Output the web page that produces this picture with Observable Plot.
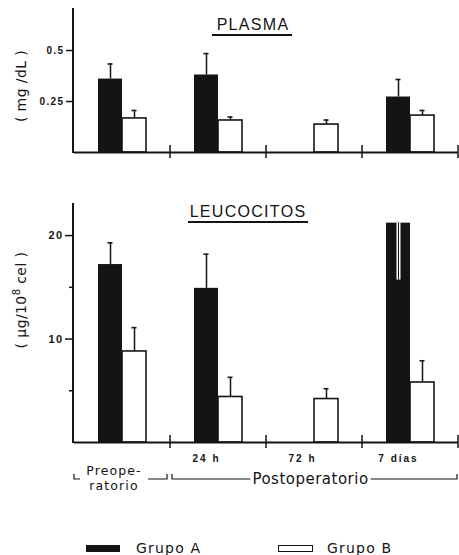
<!DOCTYPE html>
<html><head><meta charset="utf-8">
<script src="https://cdn.jsdelivr.net/npm/d3@7"></script>
<script src="https://cdn.jsdelivr.net/npm/@observablehq/plot@0.6"></script>
<style>
html,body{margin:0;padding:0;background:#fff;}
#wrap{position:relative;width:459px;height:555px;overflow:hidden;font-family:"DejaVu Sans",sans-serif;color:#141414;}
.panel{position:absolute;left:0;}
#top{top:0;}
#bot{top:180px;}
g[aria-label="y-axis tick label"] text{letter-spacing:1.4px;}
g[aria-label="text"] text{letter-spacing:2px;}
.leg{position:absolute;top:541px;display:flex;align-items:center;font-size:14px;letter-spacing:1.2px;line-height:14px;white-space:nowrap;}
.sw{display:inline-block;width:34px;height:7px;margin-right:16px;box-sizing:border-box;}
</style></head>
<body>
<div id="wrap">
  <div id="top" class="panel"></div>
  <div id="bot" class="panel"></div>
  <div class="leg" style="left:86px"><span class="sw" style="background:#141414"></span>Grupo A</div>
  <div class="leg" style="left:278px"><span class="sw" style="border:1.5px solid #141414;background:#fff;width:35px;margin-right:14px"></span>Grupo B</div>
</div>
<script>
// ---- data ----
const periods = ["Preoperatorio", "24 h", "72 h", "7 días"];
const periodLabels = ["", "24 h", "72 h", "7 días"];
const groups = ["A", "B"];

const plasmaA    = [0.360, 0.380, null, 0.272];
const plasmaErrA = [0.434, 0.485, null, 0.358];
const plasmaB    = [0.167, 0.157, 0.137, 0.181];
const plasmaErrB = [0.206, 0.174, 0.159, 0.206];
const plasmaTicks = [0.25, 0.5];
const plasmaTickLabels = ["0.25", "0.5"];

const leucoA    = [17.2, 14.9, null, 21.2];
const leucoErrA = [19.3, 18.2, null, 15.7];
const leucoB    = [8.8, 4.4, 4.2, 5.8];
const leucoErrB = [11.1, 6.3, 5.2, 7.9];
const leucoTicks = [10, 20];
const leucoTickLabels = ["10", "20"];
const leucoMinorTicks = [5, 15];

const INK = "#141414";

function rowsFor(a, ea, b, eb) {
  const rows = [];
  periods.forEach((p, i) => {
    if (a[i] != null) rows.push({period: p, group: "A", value: a[i], err: ea[i]});
    if (b[i] != null) rows.push({period: p, group: "B", value: b[i], err: eb[i]});
  });
  return rows;
}

function panel(o) {
  const rows = rowsFor(o.a, o.ea, o.b, o.eb);
  const A = rows.filter(d => d.group === "A"), B = rows.filter(d => d.group === "B");
  const up = rows.filter(d => d.err > d.value), down = rows.filter(d => d.err < d.value);
  const marks = [
    Plot.barY(A, {fx: "period", x: "group", y: "value", fill: INK}),
    Plot.barY(B, {fx: "period", x: "group", y: "value", fill: "white", stroke: INK, strokeWidth: 1.6}),
    Plot.ruleX(up, {fx: "period", x: "group", y1: "value", y2: "err", stroke: INK, strokeWidth: 1.5}),
    Plot.tickY(up, {fx: "period", x: "group", y: "err", stroke: INK, strokeWidth: 1.6, insetLeft: 9.5, insetRight: 9.5}),
    Plot.ruleX(down, {fx: "period", x: "group", y1: "value", y2: "err", stroke: "white", strokeWidth: 4}),
    Plot.ruleX(down, {fx: "period", x: "group", y1: "value", y2: "err", stroke: INK, strokeWidth: 1}),
    Plot.ruleY([0], {stroke: INK, strokeWidth: 2}),
    Plot.axisY({ticks: o.ticks, tickFormat: d => o.tickLabels[o.ticks.indexOf(d)], tickSize: o.tickSize,
      tickPadding: 2, label: null, fontWeight: "bold", fontSize: o.fontSize, color: INK, strokeWidth: 1.5})
  ];
  if (o.minor) marks.push(Plot.axisY({ticks: o.minor, tickFormat: () => "", tickSize: 5, label: null, color: INK, strokeWidth: 1.5}));
  if (o.periodText) marks.push(Plot.text(periods.map((p, i) => ({period: p, label: periodLabels[i]})),
      {fx: "period", x: () => "A", frameAnchor: "bottom", dy: 19, text: "label", fontWeight: "bold", fontSize: 10, fill: INK}));
  return Plot.plot({
    width: 459, height: o.height, marginLeft: 73, marginRight: 1, marginTop: o.marginTop, marginBottom: o.marginBottom,
    fx: {domain: periods, padding: 0, axis: null},
    x: {domain: groups, paddingInner: 0, paddingOuter: 1, axis: null},
    y: {domain: o.yDomain},
    style: {fontFamily: "'Liberation Sans', Arial, sans-serif", background: "transparent", color: INK},
    marks
  });
}

function scalesOf(chart) {
  const s = chart.scale("fx"), t = chart.scale("y");
  let fx, bw;
  if (typeof s.apply === "function") { fx = v => s.apply(v); bw = s.bandwidth; }
  else {
    const b = d3.scaleBand(s.domain, s.range).paddingInner(s.paddingInner ?? 0).paddingOuter(s.paddingOuter ?? 0).align(s.align ?? 0.5).round(!!s.round);
    fx = b; bw = b.bandwidth();
  }
  const y = typeof t.apply === "function" ? (v => t.apply(v)) : d3.scaleLinear(t.domain, t.range);
  return {fx, bw, y, x0: s.range[0], x1: s.range[1], yTop: y(t.domain[1]), y0: y(0)};
}

function decorate(chart, title, titleX, titleY, ulX, ulW, ylab, ylabY, brackets) {
  const svg = d3.select(chart);
  const {fx, bw, y, x0, yTop, y0} = scalesOf(chart);
  const g = svg.append("g").attr("stroke", INK).attr("fill", "none");
  g.append("line").attr("x1", x0).attr("x2", x0).attr("y1", yTop).attr("y2", y0 + 1).attr("stroke-width", 2);
  for (const p of periods) {
    const xr = fx(p) + bw;
    g.append("line").attr("x1", xr).attr("x2", xr).attr("y1", y0 - 7).attr("y2", y0 + 6).attr("stroke-width", 1.5);
  }
  const t = svg.append("g").attr("fill", INK);
  t.append("text").attr("x", titleX).attr("y", titleY).attr("text-anchor", "middle")
    .attr("font-family", "'Liberation Sans', Arial, sans-serif").attr("font-size", 16).attr("letter-spacing", 1.3).text(title);
  t.append("rect").attr("x", ulX).attr("y", titleY + 4).attr("width", ulW).attr("height", 2);
  const yl = t.append("text").attr("transform", `translate(21.5,${ylabY}) rotate(-90)`).attr("text-anchor", "middle")
    .attr("dy", "0.35em").attr("font-family", "'DejaVu Sans', sans-serif").attr("font-size", 14).attr("letter-spacing", 0.4);
  ylab(yl);
  if (brackets) {
    const yb = y0 + 37;
    const bg = svg.append("g").attr("stroke", INK).attr("fill", "none").attr("stroke-width", 1.2);
    const xL = fx(periods[0]), xR = fx(periods[0]) + bw - 3;
    bg.append("path").attr("d", `M${xL},${yb - 5}V${yb}H${xL + 6}`);
    bg.append("path").attr("d", `M${xR - 19},${yb}H${xR}V${yb - 5}`);
    const cx = (xL + 6 + xR - 19) / 2;
    const tf = svg.append("g").attr("fill", INK).attr("font-family", "'DejaVu Sans', sans-serif").attr("text-anchor", "middle");
    tf.append("text").attr("x", cx).attr("y", yb - 4).attr("font-size", 12.5).attr("letter-spacing", 1.1).text("Preope-");
    tf.append("text").attr("x", cx).attr("y", yb + 11).attr("font-size", 12.5).attr("letter-spacing", 1.1).text("ratorio");
    const xa = fx(periods[1]) + 2, xb = fx(periods[3]) + bw - 1;
    const pc = (xa + xb) / 2 - 4;
    const pt = tf.append("text").attr("x", pc).attr("y", yb + 5).attr("font-size", 15).attr("letter-spacing", 0.5).text("Postoperatorio");
    const len = pt.node().getComputedTextLength();
    bg.append("path").attr("d", `M${xa},${yb - 5}V${yb}H${pc - len / 2 - 2}`);
    bg.append("path").attr("d", `M${pc + len / 2 + 2},${yb}H${xb}V${yb - 5}`);
  }
}

const topChart = panel({a: plasmaA, ea: plasmaErrA, b: plasmaB, eb: plasmaErrB, yDomain: [0, 0.706],
  ticks: plasmaTicks, tickLabels: plasmaTickLabels, tickSize: 8, fontSize: 10,
  height: 175, marginTop: 8, marginBottom: 23});
document.getElementById("top").appendChild(topChart);
decorate(topChart, "PLASMA", 253, 30, 212, 80, t => t.text("( mg /dL )"), 86, false);

const botChart = panel({a: leucoA, ea: leucoErrA, b: leucoB, eb: leucoErrB, yDomain: [0, 23.1],
  ticks: leucoTicks, tickLabels: leucoTickLabels, tickSize: 9, fontSize: 11, minor: leucoMinorTicks,
  periodText: true, height: 320, marginTop: 23, marginBottom: 58});
document.getElementById("bot").appendChild(botChart);
decorate(botChart, "LEUCOCITOS", 248, 37, 188, 120, t => {
  t.append("tspan").text("( µg/10");
  t.append("tspan").attr("dy", -6).attr("font-size", 10).text("8");
  t.append("tspan").attr("dy", 6).text(" cel )");
}, 120, true);
</script>
</body></html>
